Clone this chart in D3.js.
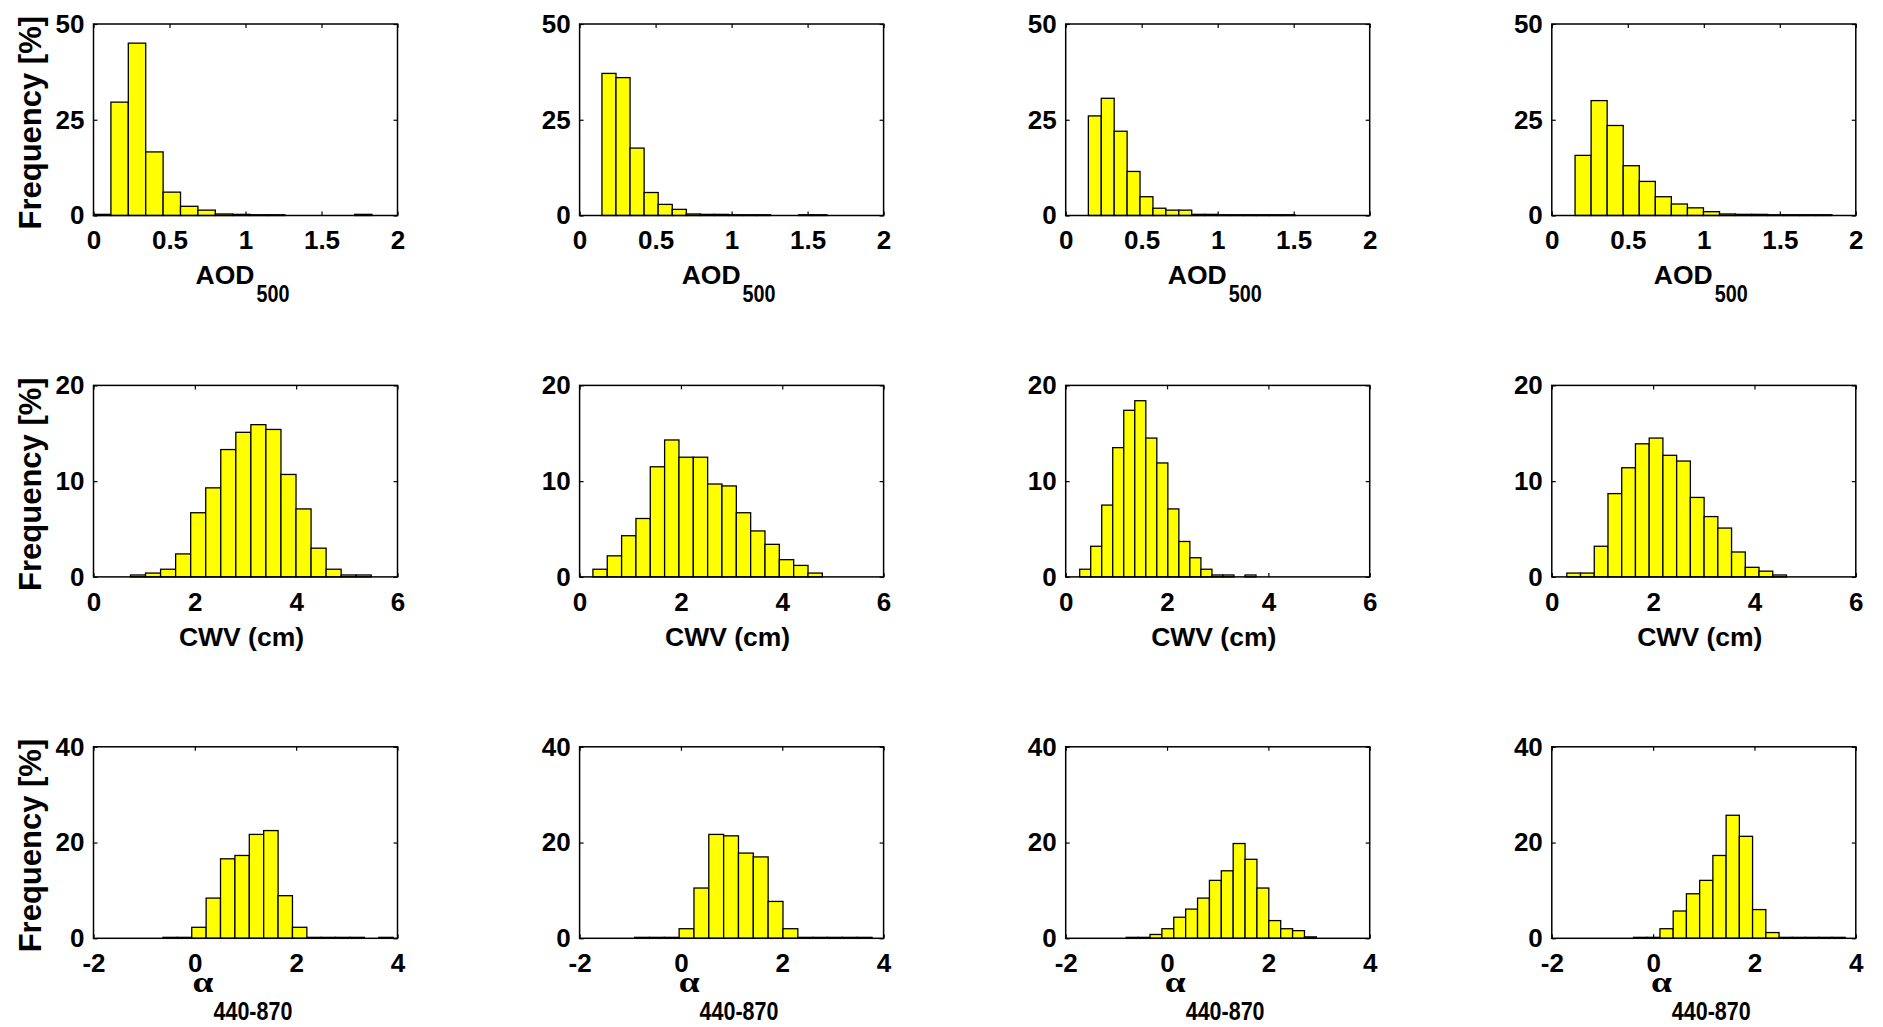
<!DOCTYPE html>
<html>
<head>
<meta charset="utf-8">
<script src="https://cdn.jsdelivr.net/npm/d3@7"></script>
<style>
  body { margin: 0; background: #fff; }
  svg { display: block; }
</style>
</head>
<body>
<div id="container"></div>
<script>
// Page and panel grid dimensions.
const width = 1883;
const height = 1027;
const panelLeft = 93.5;
const panelStepX = 486.1;
const panelTop = 24;
const panelStepY = 361.4;
const panelWidth = 304;
const panelHeight = 191.5;

// Per-row axes: domains, tick values and labels.
const xDomains = [[0, 2], [0, 6], [-2, 4]];
const yDomains = [[0, 50], [0, 20], [0, 40]];
const xTicks = [[0, 0.5, 1, 1.5, 2], [0, 2, 4, 6], [-2, 0, 2, 4]];
const yTicks = [[0, 25, 50], [0, 10, 20], [0, 20, 40]];
const xLabels = ["AOD", "CWV (cm)", "α"];
const xSubLabels = ["500", "", "440-870"];
const yLabel = "Frequency [%]";

// AOD500 histograms: first bin edge, bin width, frequency [%] per bin.
const aodStart = [0.0, 0.147, 0.149, 0.153];
const aodWidth = [0.1145, 0.0925, 0.085, 0.1056];
const aodFreq = [
  [0.3, 29.6, 45.0, 16.6, 6.1, 2.4, 1.4, 0.4, 0.3, 0.2, 0.2, 0, 0, 0, 0, 0.3],
  [37.1, 36.0, 17.6, 6.0, 2.9, 1.6, 0.4, 0.3, 0.3, 0.2, 0.2, 0.2, 0, 0, 0.2, 0.2],
  [26.0, 30.6, 22.0, 11.5, 4.9, 1.9, 1.4, 1.4, 0.3, 0.3, 0.2, 0.2, 0.2, 0.2, 0.2, 0.2],
  [15.7, 30.0, 23.5, 13.0, 8.9, 4.9, 3.0, 2.0, 1.0, 0.4, 0.3, 0.3, 0.2, 0.2, 0.2, 0.2]
];

// Column water vapour histograms.
const cwvStart = [0.73, 0.263, 0.276, 0.296];
const cwvWidth = [0.297, 0.283, 0.2175, 0.271];
const cwvFreq = [
  [0.2, 0.4, 0.8, 2.4, 6.7, 9.3, 13.3, 15.1, 15.9, 15.4, 10.7, 7.1, 3.0, 0.8, 0.2, 0.2],
  [0.8, 2.2, 4.3, 6.1, 11.5, 14.3, 12.5, 12.5, 9.7, 9.5, 6.7, 4.8, 3.4, 1.8, 1.2, 0.4],
  [0.8, 3.2, 7.5, 13.5, 17.4, 18.4, 14.5, 11.9, 7.1, 3.7, 2.0, 0.8, 0.2, 0.2, 0, 0.2],
  [0.4, 0.4, 3.2, 8.7, 11.4, 13.9, 14.5, 12.7, 12.1, 8.3, 6.3, 5.1, 2.6, 1.0, 0.6, 0.2]
];

// Angstrom exponent (440-870 nm) histograms.
const alphaStart = [-0.629, -0.914, -0.805, -0.388];
const alphaWidth = [0.284, 0.2928, 0.2345, 0.2612];
const alphaFreq = [
  [0.2, 0.2, 2.3, 8.4, 16.6, 17.3, 21.7, 22.5, 8.9, 2.3, 0.2, 0.2, 0.2, 0.2, 0, 0.2],
  [0.2, 0.2, 0.2, 2.0, 10.5, 21.7, 21.4, 17.8, 17.0, 7.7, 2.0, 0.2, 0.2, 0.2, 0.2, 0.2],
  [0.2, 0.2, 0.8, 2.0, 4.4, 6.1, 8.4, 12.1, 14.1, 19.8, 16.5, 10.5, 3.7, 2.0, 1.6, 0.3],
  [0.2, 0.2, 2.0, 5.7, 9.3, 12.1, 17.3, 25.7, 21.3, 6.0, 1.2, 0.2, 0.2, 0.2, 0.2, 0.2]
];

const rows = [
  { start: aodStart, binWidth: aodWidth, freq: aodFreq },
  { start: cwvStart, binWidth: cwvWidth, freq: cwvFreq },
  { start: alphaStart, binWidth: alphaWidth, freq: alphaFreq }
];

// Label placement below each panel (baseline offsets from the panel bottom).
const labelOffset = [68, 69, 54];
const labelSize = [26.5, 26.5, 30];
const labelScaleX = [1, 1, 1.25];
const subOffset = [86, 0, 82];
const subSize = [23, 0, 25];
const subScaleX = 0.86;

const fontFamily = "'Liberation Sans', Arial, Helvetica, sans-serif";

// Create the SVG container.
const svg = d3.create("svg")
  .attr("width", width)
  .attr("height", height)
  .attr("font-family", fontFamily)
  .attr("font-weight", "bold");
document.getElementById("container").appendChild(svg.node());
svg.append("rect").attr("width", width).attr("height", height).attr("fill", "#fff");

const styleAxis = (g, size) => {
  g.attr("font-family", null).attr("font-size", size);
  g.select(".domain").remove();
  g.selectAll(".tick line").attr("stroke", "#000").attr("stroke-width", 1.2);
};

rows.forEach((row, r) => {
  row.freq.forEach((freq, c) => {
    const g = svg.append("g")
      .attr("transform", `translate(${panelLeft + c * panelStepX},${panelTop + r * panelStepY})`);

    const x = d3.scaleLinear().domain(xDomains[r]).range([0, panelWidth]);
    const y = d3.scaleLinear().domain(yDomains[r]).range([panelHeight, 0]);

    // Ticks point inward on all four sides.
    g.append("g")
      .attr("transform", `translate(0,${panelHeight})`)
      .call(d3.axisBottom(x).tickValues(xTicks[r]).tickFormat(d => String(d))
        .tickSizeInner(-4).tickSizeOuter(0).tickPadding(15.5))
      .call(a => styleAxis(a, 26));
    g.append("g")
      .call(d3.axisTop(x).tickValues(xTicks[r]).tickFormat("")
        .tickSizeInner(-4).tickSizeOuter(0))
      .call(a => styleAxis(a, 26));
    g.append("g")
      .call(d3.axisLeft(y).tickValues(yTicks[r]).tickFormat(d => String(d))
        .tickSizeInner(-4).tickSizeOuter(0).tickPadding(9))
      .call(a => styleAxis(a, 26));
    g.append("g")
      .attr("transform", `translate(${panelWidth},0)`)
      .call(d3.axisRight(y).tickValues(yTicks[r]).tickFormat("")
        .tickSizeInner(-4).tickSizeOuter(0))
      .call(a => styleAxis(a, 26));

    // Histogram bars.
    const s = row.start[c];
    const w = row.binWidth[c];
    g.selectAll("rect.bar")
      .data(freq)
      .join("rect")
      .attr("class", "bar")
      .attr("x", (d, i) => x(s + i * w))
      .attr("width", (d, i) => x(s + (i + 1) * w) - x(s + i * w))
      .attr("y", d => y(d))
      .attr("height", d => y(0) - y(d))
      .attr("fill", "#ffff00")
      .attr("stroke", "#000")
      .attr("stroke-width", 1.3);

    // Axes box.
    g.append("rect")
      .attr("width", panelWidth)
      .attr("height", panelHeight)
      .attr("fill", "none")
      .attr("stroke", "#000")
      .attr("stroke-width", 1.5);

    // x label, with an optional narrow subscript.
    const main = g.append("text")
      .attr("font-size", labelSize[r])
      .attr("font-family", r === 2 ? "'Liberation Serif', 'DejaVu Serif', serif" : null)
      .text(xLabels[r]);
    const mainW = main.node().getComputedTextLength() * labelScaleX[r];
    let subW = 0;
    let sub = null;
    if (xSubLabels[r]) {
      sub = g.append("text")
        .attr("font-size", subSize[r])
        .text(xSubLabels[r]);
      subW = sub.node().getComputedTextLength() * subScaleX;
    }
    const gap = r === 2 ? 0 : 2;
    const left = panelWidth / 2 - 3 - (mainW + subW + gap) / 2;
    main.attr("transform",
      `translate(${left},${panelHeight + labelOffset[r]}) scale(${labelScaleX[r]},1)`);
    if (sub) {
      sub.attr("transform",
        `translate(${left + mainW + gap},${panelHeight + subOffset[r]}) scale(${subScaleX},1)`);
    }

    // y label on the first column only.
    if (c === 0) {
      g.append("text")
        .attr("transform", `translate(${41 - panelLeft},${panelHeight / 2 + 3}) rotate(-90)`)
        .attr("text-anchor", "middle")
        .attr("font-size", 31)
        .text(yLabel);
    }
  });
});
</script>
</body>
</html>
